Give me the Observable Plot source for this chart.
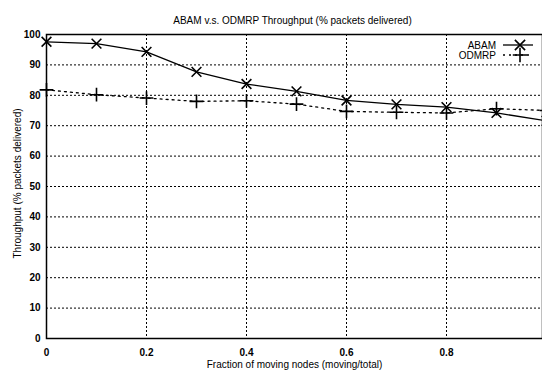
<!DOCTYPE html>
<html><head><meta charset="utf-8">
<script src="https://cdn.jsdelivr.net/npm/d3@7"></script>
<script src="https://cdn.jsdelivr.net/npm/@observablehq/plot@0.6"></script>
<style>body{margin:0;background:#fff}#c svg{display:block}</style>
</head><body><div id="c"></div>
<script>
const fractions = [0, 0.1, 0.2, 0.3, 0.4, 0.5, 0.6, 0.7, 0.8, 0.9, 1.0];
const abam = [97.6, 97.0, 94.3, 87.7, 83.7, 81.3, 78.3, 77.0, 76.1, 74.2, 71.6];
const odmrp = [81.8, 80.2, 79.1, 78.0, 78.2, 77.1, 74.7, 74.4, 74.2, 75.6, 75.0];
const xTicks = [0, 0.2, 0.4, 0.6, 0.8];
const yTicks = [0, 10, 20, 30, 40, 50, 60, 70, 80, 90, 100];
const seriesNames = ["ABAM", "ODMRP"];
const title = "ABAM v.s. ODMRP Throughput (% packets delivered)";
const xLabel = "Fraction of moving nodes (moving/total)";
const yLabel = "Throughput (% packets delivered)";

const rows = [];
fractions.forEach((f, i) => {
  rows.push({x: f, y: abam[i], s: seriesNames[0]});
  rows.push({x: f, y: odmrp[i], s: seriesNames[1]});
});
const A = rows.filter(d => d.s === "ABAM");
const O = rows.filter(d => d.s === "ODMRP");

const font = "'Liberation Sans', Arial, sans-serif";

function legend(index, scales, values, dims) {
  const g = d3.create("svg:g").attr("font-family", font).attr("font-size", 10);
  const items = [
    {name: seriesNames[0], y: dims.marginTop + 11, dash: null, sym: d3.symbolTimes},
    {name: seriesNames[1], y: dims.marginTop + 21, dash: "2,4", sym: d3.symbolPlus}
  ];
  for (const it of items) {
    g.append("text").attr("x", 496).attr("y", it.y).attr("dy", "0.35em").attr("text-anchor", "end").text(it.name);
    g.append("line").attr("x1", 503).attr("x2", 533).attr("y1", it.y).attr("y2", it.y)
      .attr("stroke", "black").attr("stroke-width", 1.3).attr("stroke-dasharray", it.dash);
    g.append("path").attr("d", d3.symbol(it.sym, 70)()).attr("transform", `translate(520,${it.y})`)
      .attr("fill", "none").attr("stroke", "black").attr("stroke-width", 1.6);
  }
  return g.node();
}

const fmt = d => d === 0 ? "0" : String(d);

const chart = Plot.plot({
  width: 542,
  height: 374,
  marginLeft: 46,
  marginRight: 0,
  marginTop: 34,
  marginBottom: 36,
  style: {fontFamily: font, fontSize: "10px", background: "white", color: "black"},
  x: {domain: [0, 0.992]},
  y: {domain: [0, 100]},
  marks: [
    Plot.gridX(xTicks.filter(d => d > 0), {stroke: "black", strokeOpacity: 1, strokeDasharray: "2,2", strokeWidth: 1}),
    Plot.gridY(yTicks.filter(d => d > 0 && d < 100), {stroke: "black", strokeOpacity: 1, strokeDasharray: "2,2", strokeWidth: 1}),
    Plot.frame({stroke: "black", strokeWidth: 1.5}),
    Plot.axisX(xTicks, {tickSize: 0, tickPadding: 10, fontWeight: "bold", fontSize: 10, label: null, tickFormat: fmt}),
    Plot.axisY(yTicks, {tickSize: 0, tickPadding: 6, fontWeight: "bold", fontSize: 10, label: null, tickFormat: fmt}),
    Plot.line(A, {x: "x", y: "y", stroke: "black", strokeWidth: 1.3}),
    Plot.line(O, {x: "x", y: "y", stroke: "black", strokeWidth: 1.3, strokeDasharray: "2,4"}),
    Plot.dot(A, {x: "x", y: "y", symbol: "times", r: 4.5, stroke: "black", strokeWidth: 1.6}),
    Plot.dot(O, {x: "x", y: "y", symbol: "plus", r: 4.5, stroke: "black", strokeWidth: 1.6}),
    Plot.text([title], {frameAnchor: "top", dy: -18, fontSize: 10, dx: -2}),
    Plot.text([xLabel], {frameAnchor: "bottom", dy: 29, fontSize: 10, dx: 0}),
    Plot.text([yLabel], {frameAnchor: "left", dx: -29, dy: -3, rotate: -90, textAnchor: "middle", fontSize: 10})
    ,legend
  ]
});
document.getElementById("c").appendChild(chart);
</script>
</body></html>
